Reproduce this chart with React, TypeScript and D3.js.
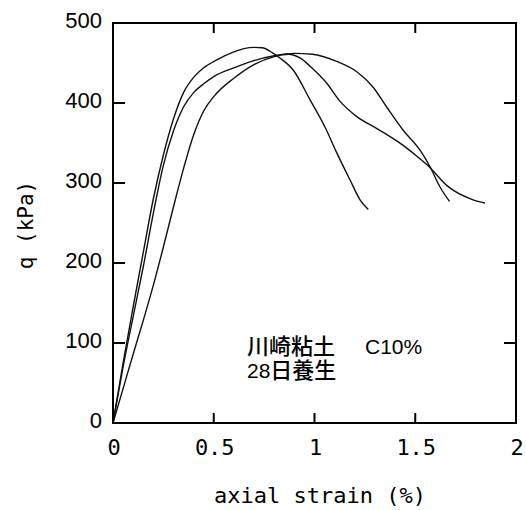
import React from "react";
import * as d3 from "d3";

// Unconfined compression curves: axial strain (%) vs deviator stress q (kPa)
const strainA = [0, 0.05, 0.1, 0.15, 0.2, 0.25, 0.3, 0.35, 0.4, 0.45, 0.515, 0.6, 0.65, 0.7, 0.74, 0.79, 0.83, 0.895, 0.978, 1.052, 1.11, 1.176, 1.226, 1.267];
const qA = [0, 75, 145, 213, 280, 335, 380, 413, 432, 444, 454, 464, 468, 469.5, 469, 463, 456, 441, 404, 370, 338, 304, 279, 267];

const strainB = [0, 0.05, 0.1, 0.15, 0.2, 0.25, 0.3, 0.35, 0.4, 0.45, 0.5, 0.6, 0.7, 0.8, 0.9, 0.99, 1.11, 1.21, 1.29, 1.358, 1.44, 1.524, 1.574, 1.623, 1.67];
const qB = [0, 70, 133, 195, 262, 322, 365, 395, 413, 424, 433, 444, 453, 459, 462, 461, 452, 439, 420, 395, 366, 341, 320, 295, 277];

const strainC = [0, 0.05, 0.1, 0.15, 0.2, 0.25, 0.3, 0.35, 0.4, 0.45, 0.5, 0.6, 0.7, 0.8, 0.87, 0.93, 0.978, 1.06, 1.127, 1.21, 1.31, 1.44, 1.52, 1.57, 1.656, 1.787, 1.846];
const qC = [0, 43, 86, 128, 172, 220, 270, 318, 360, 390, 408, 431, 448, 458, 461, 456, 446, 425, 402, 383, 368, 347, 331, 320, 297, 279, 275];

const xTicks = [0, 0.5, 1, 1.5, 2];
const xTickLabels = ["0", "0.5", "1", "1.5", "2"];
const yTicks = [0, 100, 200, 300, 400, 500];

const X0 = 113, X1 = 516, Y0 = 423, Y1 = 23;

export default function App() {
  const x = d3.scaleLinear().domain([0, 2]).range([X0, X1]);
  const y = d3.scaleLinear().domain([0, 500]).range([Y0, Y1]);
  const line = d3
    .line<[number, number]>()
    .x((d) => x(d[0]))
    .y((d) => y(d[1]))
    .curve(d3.curveMonotoneX);

  const series = [
    d3.zip(strainA, qA) as [number, number][],
    d3.zip(strainB, qB) as [number, number][],
    d3.zip(strainC, qC) as [number, number][],
  ];

  const mono = "'DejaVu Sans Mono', monospace";
  const cjk = "'Noto Sans CJK JP', sans-serif";
  const sans = "'Liberation Sans', Arial, sans-serif";

  return (
    <svg
      width={526}
      height={510}
      style={{ position: "absolute", left: 0, top: 0, background: "#fff" }}
    >
      {/* curves */}
      {series.map((s, i) => (
        <path key={i} d={line(s) ?? ""} fill="none" stroke="#111" strokeWidth={1.4} />
      ))}

      {/* frame */}
      <rect x={X0} y={Y1} width={X1 - X0} height={Y0 - Y1} fill="none" stroke="#000" strokeWidth={2} />

      {/* inward ticks, all four sides */}
      {xTicks.slice(1, -1).map((t) => (
        <g key={"xt" + t}>
          <line x1={x(t)} x2={x(t)} y1={Y0} y2={Y0 - 10} stroke="#000" strokeWidth={2} />
          <line x1={x(t)} x2={x(t)} y1={Y1} y2={Y1 + 10} stroke="#000" strokeWidth={2} />
        </g>
      ))}
      {yTicks.slice(1, -1).map((t) => (
        <g key={"yt" + t}>
          <line x1={X0} x2={X0 + 12} y1={y(t)} y2={y(t)} stroke="#000" strokeWidth={2} />
          <line x1={X1} x2={X1 - 12} y1={y(t)} y2={y(t)} stroke="#000" strokeWidth={2} />
        </g>
      ))}

      {/* tick labels */}
      {yTicks.map((t) => (
        <text
          key={"yl" + t}
          x={102}
          y={y(t) + 5}
          textAnchor="end"
          fontFamily={sans}
          fontSize={22}
          fill="#000"
        >
          {t}
        </text>
      ))}
      {xTicks.map((t, i) => (
        <text
          key={"xl" + t}
          x={x(t) + 1}
          y={455}
          textAnchor="middle"
          fontFamily={mono}
          fontSize={22}
          fill="#000"
        >
          {xTickLabels[i]}
        </text>
      ))}

      {/* axis titles */}
      <text x={320} y={503} textAnchor="middle" fontFamily={mono} fontSize={22} fill="#000">
        axial strain (%)
      </text>
      <text
        transform={`translate(33,225) rotate(-90)`}
        textAnchor="middle"
        fontFamily={mono}
        fontSize={21}
        fill="#000"
      >
        q (kPa)
      </text>

      {/* annotation */}
      <text x={247} y={354} fontSize={22} fill="#000" fontWeight={500}>
        <tspan fontFamily={cjk}>川崎粘土</tspan>
        <tspan x={365} fontFamily={sans} fontSize={21}>C10%</tspan>
      </text>
      <text x={247} y={378} fontSize={22} fill="#000" fontWeight={500}>
        <tspan fontFamily={sans} fontSize={21}>28</tspan>
        <tspan fontFamily={cjk}>日養生</tspan>
      </text>
    </svg>
  );
}
